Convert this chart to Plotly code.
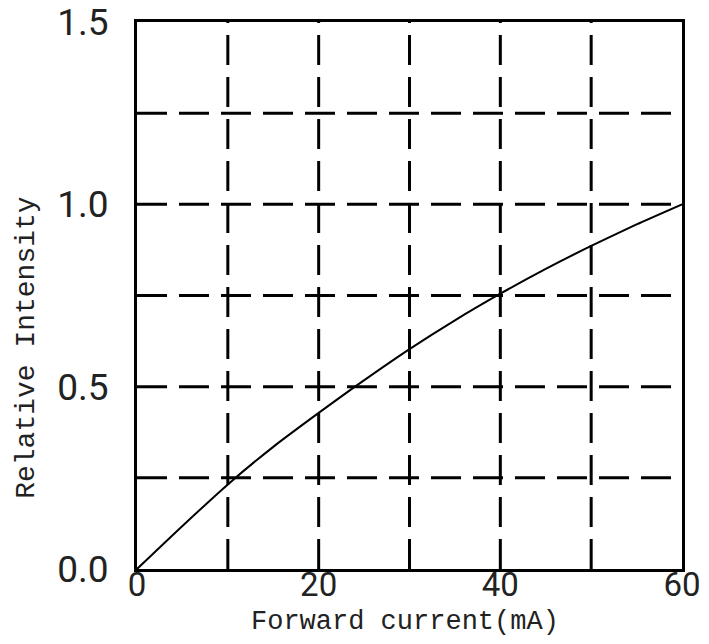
import plotly.graph_objects as go

current_ma = [0, 5, 10, 15, 20, 24, 30, 35, 40, 45, 50, 55, 60]
relative_intensity = [0.0, 0.118, 0.232, 0.335, 0.428, 0.5, 0.603, 0.682, 0.755, 0.823, 0.886, 0.945, 1.0]

x_tickvals = [0, 20, 40, 60]
x_ticktext = ["0", "20", "40", "60"]
y_tickvals = [0, 0.5, 1.0, 1.5]
y_ticktext = ["0.0", "0.5", "1.0", "1.5"]
x_grid = [10, 20, 30, 40, 50]
y_grid = [0.25, 0.5, 0.75, 1.0, 1.25]
x_title = "Forward current(mA)"
y_title = "Relative Intensity"

fig = go.Figure()
fig.add_trace(go.Scatter(x=current_ma, y=relative_intensity, mode="lines",
                         line=dict(color="black", width=2, shape="spline", smoothing=0.6),
                         showlegend=False, hoverinfo="skip"))

y_tick_font = dict(family="Roboto", size=37, color="#222")
x_tick_font = dict(family="Roboto", size=33, color="#222")
title_font = dict(family="Liberation Mono, Courier New, monospace", size=27, color="#222")

fig.update_xaxes(range=[0, 60], tickmode="array", tickvals=x_tickvals, ticktext=x_ticktext,
                 showgrid=False, zeroline=False, showline=True, mirror=True,
                 linecolor="black", linewidth=3, ticks="", tickfont=x_tick_font,
                 ticklabelstandoff=-16, automargin=False)
fig.update_yaxes(range=[0, 1.5], tickmode="array", tickvals=y_tickvals, ticktext=y_ticktext,
                 showgrid=False, zeroline=False, showline=True, mirror=True,
                 linecolor="black", linewidth=3, ticks="", tickfont=y_tick_font,
                 ticklabelstandoff=18, automargin=False)

# dashed grid lines drawn as shapes
for xv in x_grid:
    fig.add_shape(type="line", xref="x", yref="paper", x0=xv, x1=xv, y0=0, y1=1,
                  line=dict(color="black", width=3, dash="30px,12px"), layer="below")
for yv in y_grid:
    fig.add_shape(type="line", xref="paper", yref="y", x0=0, x1=1, y0=yv, y1=yv,
                  line=dict(color="black", width=3, dash="30px,12px"), layer="below")

fig.add_annotation(text=x_title, xref="paper", yref="paper", x=0.4917, y=-0.097,
                   xanchor="center", yanchor="middle", showarrow=False, font=title_font)
fig.add_annotation(text=y_title, xref="paper", yref="paper", x=-0.204, y=0.404,
                   xanchor="center", yanchor="middle", textangle=-90, showarrow=False,
                   font=dict(title_font, size=28))

fig.update_layout(width=709, height=644, margin=dict(l=137, r=27, t=22, b=75),
                  plot_bgcolor="white", paper_bgcolor="white")

fig.write_html("out.html", config={"displayModeBar": False},
               post_script="document.body.style.margin='0';document.body.style.overflow='hidden';")
